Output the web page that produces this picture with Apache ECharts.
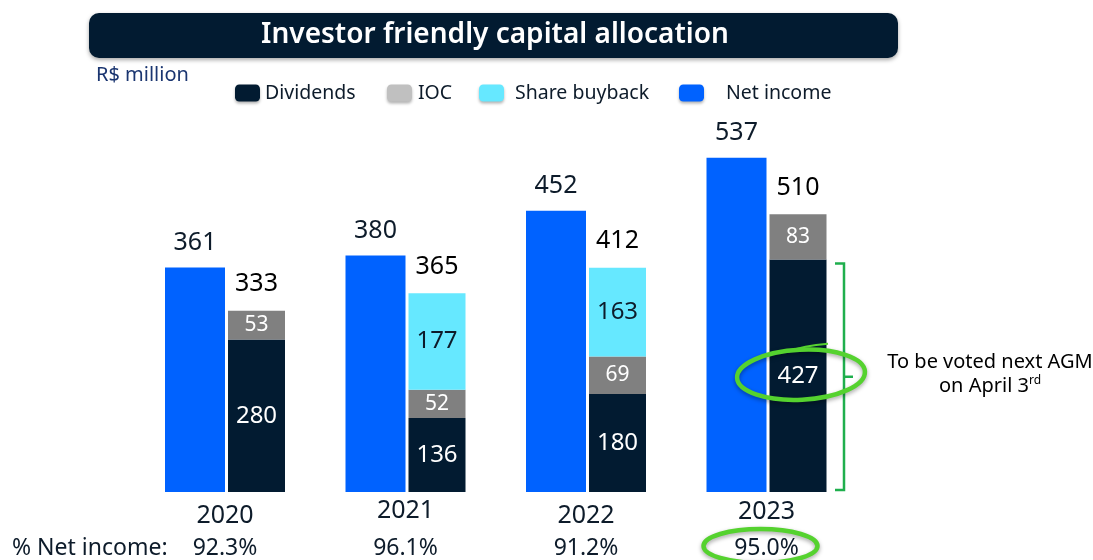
<!DOCTYPE html>
<html>
<head>
<meta charset="utf-8">
<script src="https://cdn.jsdelivr.net/npm/echarts@6/dist/echarts.min.js"></script>
<style>
  html, body { margin: 0; padding: 0; background: #fff; }
  #main { width: 1093px; height: 560px; }
</style>
</head>
<body>
<div id="main"></div>
<script>
const years = ['2020', '2021', '2022', '2023'];
const netIncome = [361, 380, 452, 537];
const dividends = [280, 136, 180, 427];
const ioc = [53, 52, 69, 83];
const buyback = ['-', 177, 163, '-'];
const totals = [333, 365, 412, 510];
const pctNetIncome = ['92.3%', '96.1%', '91.2%', '95.0%'];

const NAVY = '#021b31';
const TXT = '#0d1b2a';
const FONT = 'Noto Sans';

// the year labels are not quite on one line in the original
const yearStyle = ['yA', 'yB', 'yA', 'yC'];

const chart = echarts.init(document.getElementById('main'));

function legendAt(name, left, color, gapLeft) {
  return {
    data: [{ name: name, itemStyle: { color: color, shadowBlur: 3, shadowOffsetY: 2, shadowColor: 'rgba(0,0,0,0.3)' } }],
    left: left,
    top: 83,
    padding: 0,
    itemWidth: 25,
    itemHeight: 17,
    icon: 'roundRect',
    selectedMode: false,
    textStyle: { fontFamily: FONT, fontSize: 19.5, color: TXT, padding: [0, 0, 0, gapLeft] }
  };
}

const option = {
  animation: false,
  legend: [
    legendAt('Dividends', 235, NAVY, 0),
    legendAt('IOC', 387, '#c0c0c0', 1),
    legendAt('Share buyback', 479, '#66e8ff', 6),
    legendAt('Net income', 679, '#0062ff', 17)
  ],
  grid: { left: 134.75, right: 236.25, top: 100, bottom: 68 },
  xAxis: [{
    type: 'category',
    data: years,
    axisLine: { show: false },
    axisTick: { show: false },
    axisLabel: {
      margin: 7,
      formatter: function (v, i) {
        return '{' + yearStyle[i] + '|' + v + '}\n{p|' + pctNetIncome[i] + '}';
      },
      rich: {
        yA: { fontFamily: FONT, fontSize: 25, color: TXT, lineHeight: 28, padding: [5, 0, 0, 0] },
        yB: { fontFamily: FONT, fontSize: 25, color: TXT, lineHeight: 28, padding: [0, 0, 5, 0] },
        yC: { fontFamily: FONT, fontSize: 25, color: TXT, lineHeight: 28, padding: [1, 0, 4, 0] },
        p: { fontFamily: FONT, fontSize: 23, color: TXT, lineHeight: 42 }
      }
    }
  }],
  yAxis: [
    { type: 'value', min: 0, max: 630, show: false, splitLine: { show: false } },
    { type: 'value', min: 0, max: 720, show: false, splitLine: { show: false } }
  ],
  series: [
    {
      name: 'Net income',
      type: 'bar',
      yAxisIndex: 0,
      barWidth: 60,
      barGap: '5%',
      data: netIncome,
      itemStyle: { color: '#0062ff' },
      label: { show: true, position: 'top', distance: 12, fontFamily: FONT, fontSize: 25, color: TXT }
    },
    {
      name: 'Dividends',
      type: 'bar',
      stack: 'alloc',
      yAxisIndex: 1,
      barWidth: 57,
      data: dividends,
      itemStyle: { color: NAVY },
      label: { show: true, position: 'inside', fontFamily: FONT, fontSize: 24, color: '#fff' }
    },
    {
      name: 'IOC',
      type: 'bar',
      stack: 'alloc',
      yAxisIndex: 1,
      barWidth: 57,
      data: ioc,
      itemStyle: { color: '#808080' },
      label: { show: true, position: 'inside', fontFamily: FONT, fontSize: 21, color: '#fff' }
    },
    {
      name: 'Share buyback',
      type: 'bar',
      stack: 'alloc',
      yAxisIndex: 1,
      barWidth: 57,
      data: buyback,
      itemStyle: { color: '#66e8ff' },
      label: { show: true, position: 'inside', fontFamily: FONT, fontSize: 24, color: TXT }
    },
    {
      // zero-height cap only used to print the total above each stack
      name: 'Total',
      type: 'bar',
      stack: 'alloc',
      yAxisIndex: 1,
      barWidth: 57,
      data: totals.map(function () { return 0; }),
      itemStyle: { color: 'rgba(0,0,0,0)' },
      label: {
        show: true, position: 'top', distance: 14, fontFamily: FONT, fontSize: 25, color: '#000',
        formatter: function (p) { return totals[p.dataIndex]; }
      }
    }
  ]
};

chart.setOption(option);

// annotations, placed from the axes
const last = years.length - 1;
const cx = chart.convertToPixel({ xAxisIndex: 0 }, years[last]);
const stackX = cx + 31.5;
const divTop = chart.convertToPixel({ yAxisIndex: 1 }, dividends[last]);
const base = chart.convertToPixel({ yAxisIndex: 1 }, 0);
const divMid = chart.convertToPixel({ yAxisIndex: 1 }, dividends[last] / 2);
const GREEN = '#1faf4d';
const HL = '#55d22f';

chart.setOption({
  graphic: [
    {
      type: 'rect',
      shape: { x: 89, y: 13, width: 809, height: 45, r: 10 },
      style: { fill: NAVY, shadowBlur: 4, shadowOffsetY: 2, shadowColor: 'rgba(0,0,0,0.35)' }
    },
    {
      type: 'text',
      x: 495, y: 35,
      style: {
        text: 'Investor friendly capital allocation',
        fill: '#fff', font: '600 28px "Noto Sans"', align: 'center', verticalAlign: 'middle'
      }
    },
    {
      type: 'text',
      x: 96, y: 75,
      style: { text: 'R$ million', fill: '#1a3570', font: '20px "Noto Sans"', verticalAlign: 'middle' }
    },
    {
      type: 'text',
      x: 12, y: 548,
      style: { text: '% Net income:', fill: TXT, font: '23px "Noto Sans"', verticalAlign: 'middle' }
    },
    {
      type: 'polyline',
      shape: { points: [[stackX + 37, divTop + 4], [stackX + 46, divTop + 4], [stackX + 46, base - 2], [stackX + 37, base - 2]] },
      style: { stroke: GREEN, lineWidth: 2.5, fill: null }
    },
    {
      type: 'line',
      shape: { x1: stackX + 46, y1: divMid + 1, x2: stackX + 55, y2: divMid + 1 },
      style: { stroke: GREEN, lineWidth: 2.5 }
    },
    {
      type: 'text',
      x: 990, y: 362,
      style: { text: 'To be voted next AGM', fill: '#000', font: '20px "Noto Sans"', align: 'center', verticalAlign: 'middle' }
    },
    {
      type: 'text',
      x: 990, y: 386,
      style: {
        text: 'on April 3{sup|rd}',
        fill: '#000', font: '20px "Noto Sans"', align: 'center', verticalAlign: 'middle',
        rich: { sup: { fontSize: 12, fontFamily: FONT, fill: '#000', padding: [0, 0, 10, 0] } }
      }
    },
    {
      type: 'ellipse',
      z: 100,
      shape: { cx: stackX + 3, cy: divMid - 1, rx: 64, ry: 25 },
      rotation: 0.05,
      originX: stackX + 3, originY: divMid - 1,
      style: { fill: null, stroke: HL, lineWidth: 4.5, shadowBlur: 4, shadowOffsetY: 2, shadowColor: 'rgba(0,0,0,0.35)' }
    },
    {
      type: 'bezierCurve',
      z: 100,
      shape: { x1: stackX - 10, y1: divMid - 24, cpx1: stackX + 5, cpy1: divMid - 30, x2: stackX + 30, y2: divMid - 32 },
      style: { fill: null, stroke: HL, lineWidth: 2 }
    },
    {
      type: 'ellipse',
      z: 100,
      shape: { cx: cx - 6, cy: 546, rx: 57, ry: 17 },
      style: { fill: null, stroke: HL, lineWidth: 4.5, shadowBlur: 4, shadowOffsetY: 2, shadowColor: 'rgba(0,0,0,0.35)' }
    }
  ]
});
</script>
</body>
</html>
